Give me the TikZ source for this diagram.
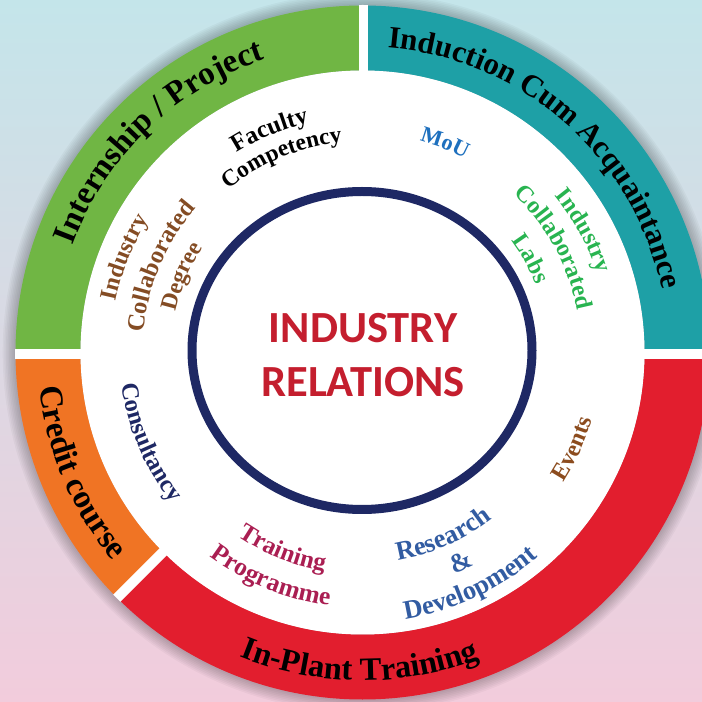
\documentclass[tikz,border=0pt]{standalone}
\usepackage{fontspec}
\setmainfont{Liberation Serif}
\newfontfamily\carlito{Carlito}
\usetikzlibrary{decorations.text}
\definecolor{ringgreen}{RGB}{112,182,68}
\definecolor{ringteal}{RGB}{30,160,166}
\definecolor{ringred}{RGB}{226,30,46}
\definecolor{ringorange}{RGB}{240,116,36}
\definecolor{navy}{RGB}{30,40,100}
\definecolor{titlered}{RGB}{196,30,46}
\definecolor{moublue}{RGB}{30,112,190}
\definecolor{labgreen}{RGB}{40,180,80}
\definecolor{eventbrown}{RGB}{140,76,30}
\definecolor{rdblue}{RGB}{50,92,162}
\definecolor{trainmag}{RGB}{170,30,82}
\definecolor{degbrown}{RGB}{132,76,36}
\definecolor{bgtop}{RGB}{196,229,234}
\definecolor{bgmid}{RGB}{240,242,243}
\definecolor{bgbot}{RGB}{242,204,220}
% clockwise arc text (tops outward): radius, centre angle, size, colour, text
\newcommand\cwtext[5]{\path[decorate,decoration={text along path,text align=center,text color=#4,text={|\fontsize{#3}{#3}\selectfont\bfseries|#5}}] ([shift={(O)}]{#2+80}:#1pt) arc[start angle={#2+80},end angle={#2-80},radius=#1pt];}
% counter-clockwise arc text (tops inward)
\newcommand\ccwtext[5]{\path[decorate,decoration={text along path,text align=center,text color=#4,text={|\fontsize{#3}{#3}\selectfont\bfseries|#5}}] ([shift={(O)}]{#2-80}:#1pt) arc[start angle={#2-80},end angle={#2+80},radius=#1pt];}
\newcommand\ringsector[3]{\fill[#1] ([shift={(O)}]#2:347pt) arc[start angle=#2,end angle=#3,radius=347pt] -- ([shift={(O)}]#3:282pt) arc[start angle=#3,end angle=#2,radius=282pt] -- cycle;}
\begin{document}
\begin{tikzpicture}[x=1pt,y=1pt,
  titlefont/.style={font=\carlito\bfseries\fontsize{44.5}{44.5}\selectfont,text=titlered,anchor=base,inner sep=0pt}]
\useasboundingbox (0,0) rectangle (702,702);
\shade[top color=bgtop,middle color=bgmid,bottom color=bgbot] (0,0) rectangle (702,702);
\coordinate (O) at (362.5,349.5);
% soft shadow
\foreach \i in {1,...,8} \fill[black,opacity=0.03] (O) circle [radius=347+\i*1.6];
% ring
\ringsector{ringteal}{0}{90}
\ringsector{ringgreen}{90}{180}
\ringsector{ringorange}{180}{225}
\ringsector{ringred}{225}{360}
\begin{scope}
\clip (O) circle [radius=347.5];
\fill[white] (359,349.5) rectangle (368,702);
\fill[white] (0,342.5) rectangle (702,352.5);
\draw[white,line width=10pt] (O) -- ++(225:360pt);
\end{scope}
\fill[white] (O) circle [radius=282];
% centre ellipse
\draw[navy,line width=9pt] (362,351.5) ellipse [x radius=170pt,y radius=159pt];
\node[titlefont] (t1) at (363,359) {INDUSTRY};
\node[titlefont] (t2) at (363,305) {RELATIONS};
% outer ring texts
\cwtext{309}{134}{33}{black}{Internship / Project}
\cwtext{306}{48.5}{31}{black}{Induction Cum Acquaintance}
\ccwtext{325}{203}{33}{black}{Credit course}
\ccwtext{328}{269.5}{32.5}{black}{In-Plant Training}
% inner texts
\cwtext{236}{112.7}{24.5}{black}{Faculty}
\cwtext{211}{112.5}{23.5}{black}{Competency}
\cwtext{219}{68.5}{22.5}{moublue}{MoU}
\cwtext{248}{28.8}{24}{labgreen}{Industry}
\cwtext{219}{28.7}{24}{labgreen}{Collaborated}
\cwtext{186}{29.2}{24}{labgreen}{Labs}
\ccwtext{239}{335.4}{24}{eventbrown}{Events}
\ccwtext{211}{293.8}{26.5}{rdblue}{Research}
\ccwtext{240}{295.1}{26.5}{rdblue}{{\&}}
\ccwtext{270}{294.9}{26.5}{rdblue}{Development}
\ccwtext{222}{247.9}{25}{trainmag}{Training}
\ccwtext{255}{247.9}{25.5}{trainmag}{Programme}
\ccwtext{243}{202.9}{24.5}{navy}{Consultancy}
\cwtext{252}{158.2}{24}{degbrown}{Industry}
\cwtext{220}{156.9}{24.5}{degbrown}{Collaborated}
\cwtext{191}{157.2}{23.5}{degbrown}{Degree}
\end{tikzpicture}
\end{document}
